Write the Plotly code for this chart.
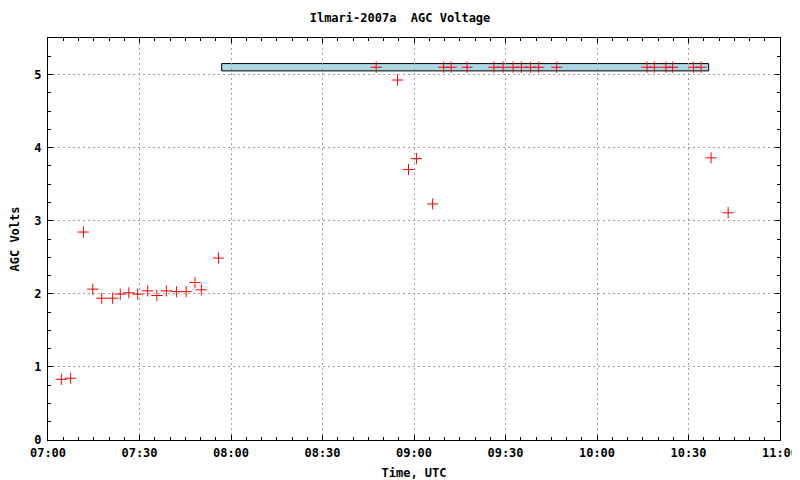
import plotly.graph_objects as go

DAY = "2007-01-01 "

times = [
    "07:04:22", "07:07:26", "07:11:36", "07:14:40", "07:17:36", "07:21:12",
    "07:23:42", "07:26:30", "07:29:24", "07:32:42", "07:35:42", "07:38:48",
    "07:42:06", "07:45:18", "07:48:12", "07:50:18", "07:55:54",
    "08:47:36", "08:54:36", "08:58:12", "09:00:48", "09:06:06",
    "09:09:42", "09:12:12", "09:17:24", "09:26:12", "09:29:12", "09:32:30",
    "09:35:12", "09:38:12", "09:40:54", "09:46:48", "10:16:24", "10:18:48",
    "10:22:36", "10:24:48", "10:31:36", "10:34:06",
    "10:37:24", "10:43:00",
]
volts = [
    0.83, 0.845, 2.845, 2.064, 1.94, 1.94,
    1.996, 2.014, 1.996, 2.04, 1.977, 2.04,
    2.03, 2.03, 2.155, 2.055, 2.489,
    5.10, 4.925, 3.70, 3.85, 3.23,
    5.10, 5.10, 5.10, 5.10, 5.10, 5.10,
    5.10, 5.10, 5.10, 5.10, 5.10, 5.10,
    5.10, 5.10, 5.10, 5.10,
    3.86, 3.11,
]

# saturation band drawn at the top
band_start = "07:56:57"
band_end = "10:36:36"
band_low = 5.05
band_high = 5.15

x_range = ["07:00:00", "11:00:00"]
y_range = [0, 5.5]
x_tick_labels = ["07:00", "07:30", "08:00", "08:30", "09:00", "09:30", "10:00", "10:30", "11:00"]

FONT = dict(family="DejaVu Sans Mono", size=12, color="black", weight="bold")

fig = go.Figure()
fig.add_trace(go.Scatter(
    x=[DAY + t for t in times], y=volts, mode="markers",
    marker=dict(symbol="cross-thin", size=8, color="red",
                line=dict(color="red", width=1)),
    showlegend=False,
))

fig.add_shape(type="rect", xref="x", yref="y",
              x0=DAY + band_start, x1=DAY + band_end, y0=band_low, y1=band_high,
              fillcolor="#add8e6", line=dict(color="black", width=1), layer="below")

grid = dict(showgrid=True, gridcolor="#a0a0a0", griddash="2px,3px", gridwidth=1)

# the page body adds an 8px offset, so the figure is 8px smaller on each axis
W, H = 792, 472
fig.update_layout(
    width=W, height=H,
    margin=dict(l=40, r=20, t=30, b=40),
    paper_bgcolor="white", plot_bgcolor="white",
    font=FONT,
    title=dict(text="Ilmari-2007a  AGC Voltage", x=(400 - 8) / W, xanchor="center",
               y=1 - 10 / H, yanchor="middle", font=FONT),
    xaxis=dict(
        type="date", range=[DAY + x_range[0], DAY + x_range[1]],
        tickmode="array",
        tickvals=[DAY + lbl + ":00" for lbl in x_tick_labels],
        ticktext=x_tick_labels,
        ticks="inside", ticklen=5, tickcolor="black",
        ticklabelstandoff=2,
        minor=dict(dtick=300000, ticks="inside", ticklen=3, tickcolor="black", showgrid=False),
        showline=True, linecolor="black", linewidth=1, mirror="ticks",
        zeroline=False,
        title=dict(text="Time, UTC", font=FONT, standoff=10),
        automargin=False,
        **grid,
    ),
    yaxis=dict(
        range=y_range, dtick=1, tick0=0,
        ticks="inside", ticklen=5, tickcolor="black",
        ticklabelstandoff=3,
        minor=dict(dtick=0.25, ticks="inside", ticklen=3, tickcolor="black", showgrid=False),
        showline=True, linecolor="black", linewidth=1, mirror="ticks",
        zeroline=False,
        title=dict(text="AGC Volts", font=FONT, standoff=14),
        automargin=False,
        **grid,
    ),
)

fig.write_html("out.html")
